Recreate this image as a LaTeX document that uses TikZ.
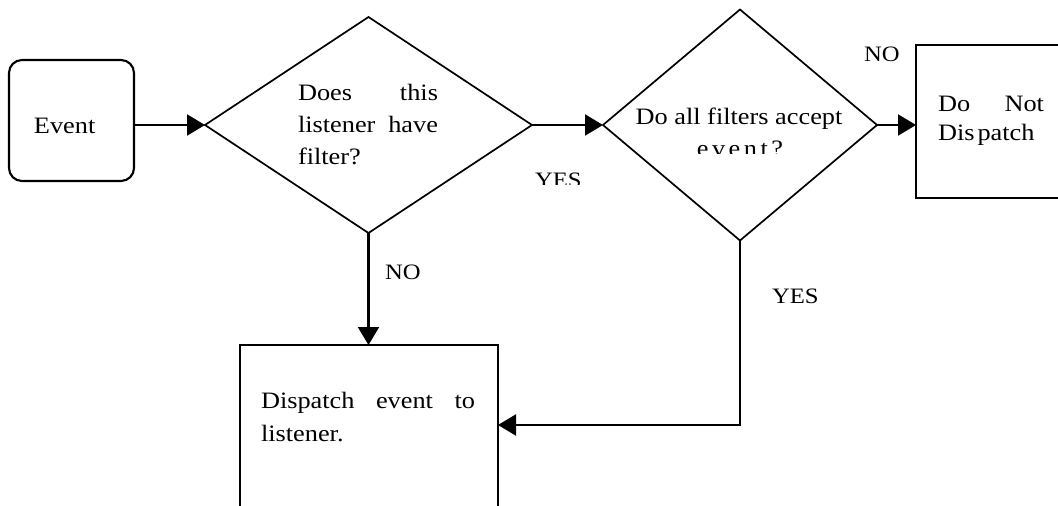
\documentclass[tikz,border=0pt]{standalone}
\usepackage{fontspec}
\setmainfont{Liberation Serif}[FakeStretch=1.12]
\usetikzlibrary{shapes.geometric,arrows.meta}
\tikzset{
  boxline/.style={draw=black,line width=2.1pt},
  dia/.style={diamond,draw=black,line width=1.7pt,inner sep=0pt,outer sep=0pt},
  rbox/.style={rectangle,boxline,inner sep=0pt,outer sep=0pt},
  txt/.style={inner sep=0pt,outer sep=0pt,anchor=base west,font=\fontsize{23.5pt}{28pt}\selectfont},
  ctxt/.style={txt,anchor=base},
  lbl/.style={inner sep=0pt,outer sep=0pt,anchor=base west,font=\fontsize{22pt}{26pt}\selectfont},
  arr/.style={line width=2.1pt,-{Triangle[length=18pt,width=21pt]}},
}
\begin{document}
\begin{tikzpicture}[x=1pt,y=-1pt]
\useasboundingbox (0,0) rectangle (1058,506);
\begin{scope}
\clip (0,0) rectangle (1058,506);
% shapes
\node[rbox,rounded corners=13pt,minimum width=125pt,minimum height=121pt] (ev) at (71.5,120.5) {};
\node[dia,minimum width=327pt,minimum height=216pt] (d1) at (368.5,125) {};
\node[dia,minimum width=274pt,minimum height=231pt] (d2) at (740,125) {};
\node[rbox,minimum width=170pt,minimum height=153pt] (nd) at (1001,121.5) {};
\node[rbox,minimum width=258pt,minimum height=215pt] (bx) at (369,452.5) {};
\coordinate (j) at (740,425);
% connectors
\draw[arr] (ev.east |- d1.west) -- (d1.west);
\draw[arr] (d1.east) -- (d2.west);
\draw[arr] (d2.east) -- (d2.east -| nd.west);
\draw[arr] (d1.south) -- (d1.south |- bx.north);
\draw[arr] (d2.south) -- (j) -- (j -| bx.east);
% texts
\node[txt] (tev) at (34,133) {Event};
\node[txt] (t1a) at (298,100) {\makebox[140pt][s]{Does this}};
\node[txt] (t1b) at (298,132) {\makebox[140pt][s]{listener have}};
\node[txt] (t1c) at (298,164) {filter?};
\node[ctxt] (t2a) at (739,124) {Do all filters accept};
\begin{scope}
\clip (600,0) rectangle (880,153);
\node[ctxt] (t2b) at (740,156) {e\kern3.5pt v\kern3.5pt e\kern3.5pt n\kern3.5pt t\kern3.5pt ?};
\end{scope}
\node[txt] (t3a) at (938,111) {\makebox[106pt][s]{Do Not}};
\node[txt] (t3b) at (938,140) {Dis\kern3pt patch};
\node[txt] (t4a) at (261,408) {\makebox[214pt][s]{Dispatch event to}};
\node[txt] (t4b) at (261,441) {listener.};
% labels
\node[lbl] (lno1) at (864,61) {NO};
\node[lbl] (lno2) at (385,279) {NO};
\node[lbl] (lyes2) at (772,303) {YES};
\begin{scope}
\clip (500,150) rectangle (600,184);
\node[lbl] (lyes1) at (535,187) {YES};
\end{scope}
\end{scope}
\end{tikzpicture}
\end{document}
